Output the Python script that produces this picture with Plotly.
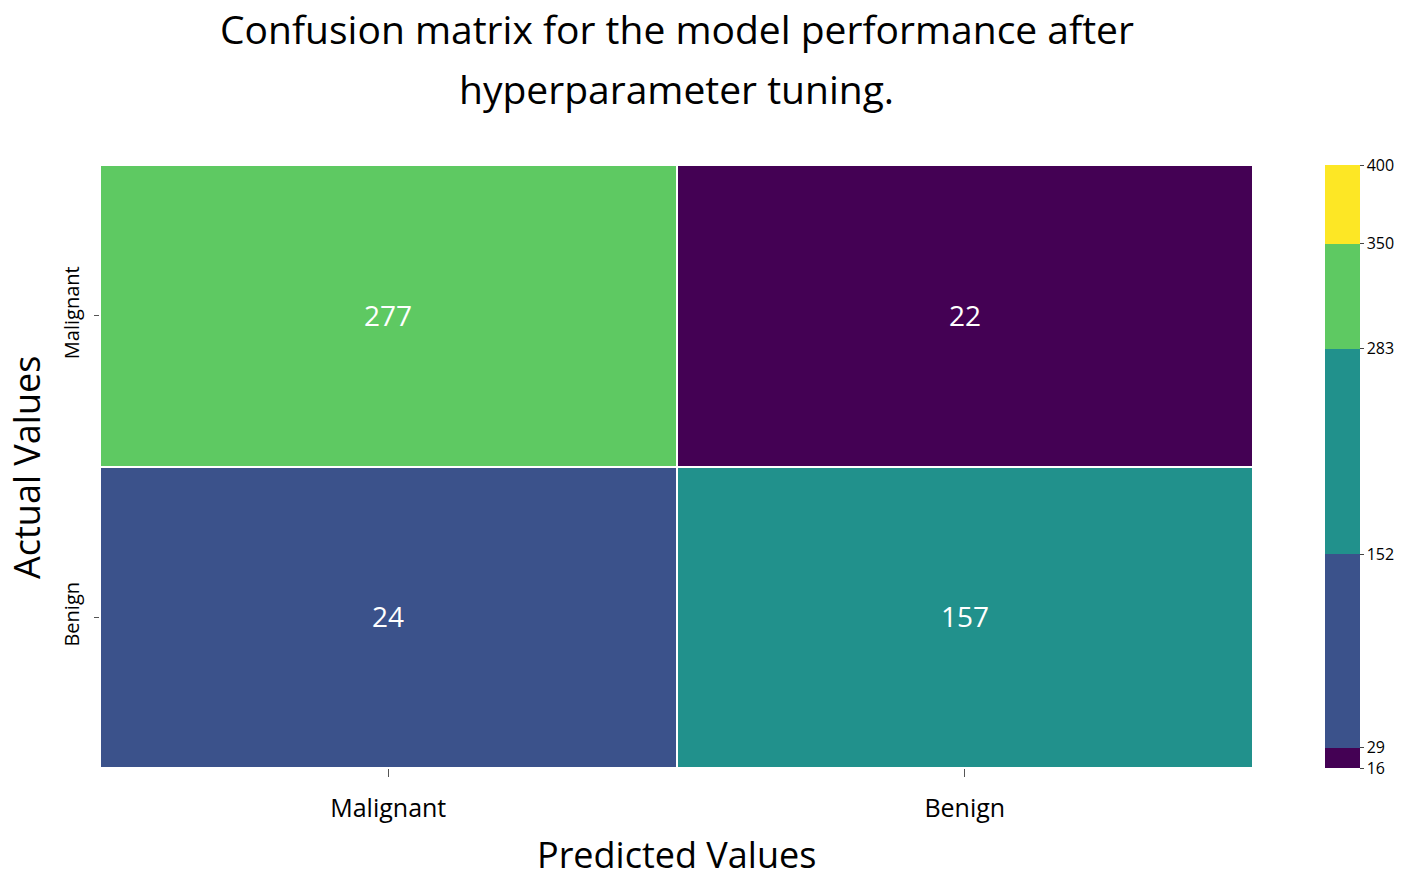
import plotly.graph_objects as go

# Data
predicted_labels = ["Malignant", "Benign"]
actual_labels = ["Malignant", "Benign"]
counts_malignant_row = [277, 22]
counts_benign_row = [24, 157]
cbar_ticks = [16, 29, 152, 283, 350, 400]

# rows listed bottom-to-top for the heatmap
y_rows = actual_labels[::-1]
z = [counts_benign_row, counts_malignant_row]
zmin, zmax = 16, 400

purple = "#440154"
blue = "#3b528b"
teal = "#21918c"
green = "#5ec962"
yellow = "#fde725"


def steps(bounds, colors):
    cs = []
    for (a, b), c in zip(zip(bounds[:-1], bounds[1:]), colors):
        na = (a - zmin) / (zmax - zmin)
        nb = (b - zmin) / (zmax - zmin)
        cs.append([na, c])
        cs.append([nb, c])
    return cs


colors = [purple, blue, teal, green, yellow]
cell_scale = steps([16, 23, 152, 270, 350, 400], colors)
bar_scale = steps(cbar_ticks, colors)

W, H = 1402, 880
L, R, T, B = 100, 149, 165, 112
PW = W - L - R
PH = H - T - B


def px_y(py):
    return (H - B - py) / PH


def px_x(px):
    return (px - L) / PW


fig = go.Figure()
fig.add_trace(go.Heatmap(
    z=z, x=predicted_labels, y=y_rows,
    zmin=zmin, zmax=zmax, colorscale=cell_scale, showscale=False,
    xgap=2, ygap=2,
    texttemplate="%{z}",
    textfont=dict(size=28, color="white", family="Open Sans"),
    hoverinfo="skip",
))
fig.add_trace(go.Scatter(
    x=[predicted_labels[0]], y=[actual_labels[0]], mode="markers",
    marker=dict(size=1, opacity=0, color=[zmin], cmin=zmin, cmax=zmax,
                colorscale=bar_scale, showscale=True,
                colorbar=dict(
                    thickness=35, lenmode="pixels", len=PH,
                    x=px_x(1325), xanchor="left", xpad=0,
                    y=0.5, yanchor="middle", ypad=0,
                    outlinewidth=0,
                    tickvals=cbar_ticks, ticktext=[str(t) for t in cbar_ticks],
                    ticks="outside", ticklen=4, tickcolor="#444",
                    tickfont=dict(size=16, color="black", family="Open Sans"),
                )),
    hoverinfo="skip", showlegend=False,
))

fig.update_layout(
    width=W, height=H,
    margin=dict(l=L, r=R, t=T, b=B, autoexpand=False),
    paper_bgcolor="white", plot_bgcolor="white",
    font=dict(family="Open Sans", color="black"),
    showlegend=False,
    annotations=[
        dict(text="Confusion matrix for the model performance after", x=0.5,
             y=px_y(28), yanchor="middle",
             xref="paper", yref="paper", showarrow=False, font=dict(size=39, color="black")),
        dict(text="hyperparameter tuning.", x=0.5,
             y=px_y(89), yanchor="middle",
             xref="paper", yref="paper", showarrow=False, font=dict(size=39, color="black")),
        dict(text="Predicted Values", x=0.5, y=px_y(855), yanchor="middle",
             xref="paper", yref="paper", showarrow=False, font=dict(size=36, color="black")),
        dict(text="Actual Values", x=px_x(26), y=px_y(468), xanchor="center", yanchor="middle",
             textangle=-90,
             xref="paper", yref="paper", showarrow=False, font=dict(size=36, color="black")),
    ],
)
fig.update_xaxes(
    categoryorder="array", categoryarray=predicted_labels,
    showgrid=False, zeroline=False, showline=False,
    ticks="outside", ticklen=8, tickcolor="#555",
    tickfont=dict(size=25, color="black"),
    ticklabelstandoff=10,
    automargin=False,
)
fig.update_yaxes(
    categoryorder="array", categoryarray=y_rows,
    showgrid=False, zeroline=False, showline=False,
    ticks="outside", ticklen=5, tickcolor="#555",
    tickangle=-90,
    tickfont=dict(size=20, color="black"),
    ticklabelstandoff=7,
    automargin=False,
)

fig.write_html("out.html", config={"displayModeBar": False},
               post_script="document.body.style.margin='0';")
